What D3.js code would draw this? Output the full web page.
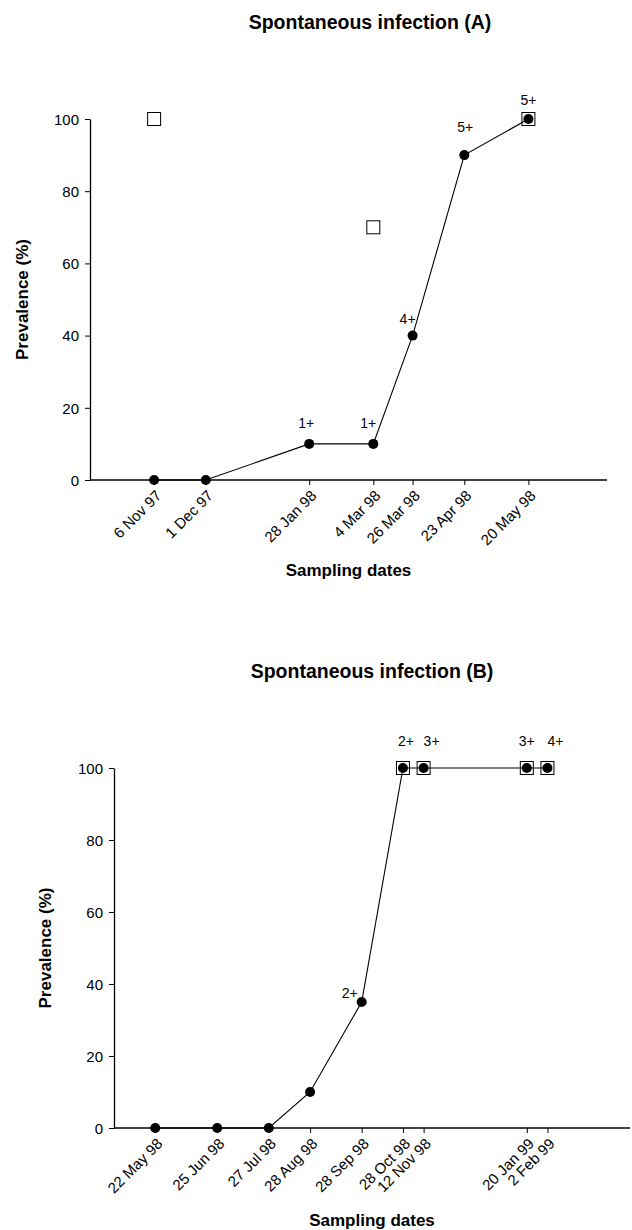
<!DOCTYPE html>
<html>
<head>
<meta charset="utf-8">
<script src="https://cdn.jsdelivr.net/npm/d3@7"></script>
<style>
  body { margin: 0; background: #fff; }
  svg text { font-family: "Liberation Sans", Arial, sans-serif; fill: #000; }
</style>
</head>
<body>
<div class="chart"></div>
<script>
// Panel A
const datesA = ["6 Nov 97", "1 Dec 97", "28 Jan 98", "4 Mar 98", "26 Mar 98", "23 Apr 98", "20 May 98"];
const posA = [31, 56, 106, 137, 156, 181, 212];
const prevA = [0, 0, 10, 10, 40, 90, 100];
const squaresA = [100, null, null, 70, null, null, 100];
const gradesA = [null, null, "1+", "1+", "4+", "5+", "5+"];

// Panel B
const datesB = ["22 May 98", "25 Jun 98", "27 Jul 98", "28 Aug 98", "28 Sep 98", "28 Oct 98", "12 Nov 98", "20 Jan 99", "2 Feb 99"];
const posB = [20, 50, 75, 95, 120, 140, 150, 200, 210];
const prevB = [0, 0, 0, 10, 35, 100, 100, 100, 100];
const squaresB = [null, null, null, null, null, 100, 100, 100, 100];
const gradesB = [null, null, null, null, "2+", "2+", "3+", "3+", "4+"];

const yTicks = [0, 20, 40, 60, 80, 100];

const svg = d3.select(".chart").append("svg")
  .attr("width", 632)
  .attr("height", 1230);

// label nudges relative to the dot (layout only)
const nudgeA = [null, null, [-3, -21], [-5, -21], [-5, -17], [1, -28], [0, -19]];
const nudgeB = [null, null, null, null, [-12, -9], [3, -27], [8, -27], [0, -27], [8, -27]];

drawPanel({
  title: "Spontaneous infection (A)",
  titleX: 370, titleY: 22,
  left: 90, right: 607, top: 119, bottom: 480,
  dates: datesA, pos: posA, prev: prevA, squares: squaresA, grades: gradesA, nudge: nudgeA,
  yLabelX: 22, xLabelY: 570
});

drawPanel({
  title: "Spontaneous infection (B)",
  titleX: 372, titleY: 671,
  left: 114, right: 630, top: 768, bottom: 1128,
  dates: datesB, pos: posB, prev: prevB, squares: squaresB, grades: gradesB, nudge: nudgeB,
  yLabelX: 45, xLabelY: 1220
});

function drawPanel (p) {
  const x = d3.scaleLinear().domain([0, 250]).range([p.left, p.right]);
  const y = d3.scaleLinear().domain([0, 100]).range([p.bottom, p.top]);

  const g = svg.append("g");

  g.append("text")
    .attr("x", p.titleX)
    .attr("y", p.titleY)
    .attr("dy", "0.35em")
    .style("text-anchor", "middle")
    .style("font-weight", "bold")
    .style("font-size", "19.5px")
    .text(p.title);

  // y axis
  const yAxis = d3.axisLeft(y).tickValues(yTicks).tickSize(5).tickPadding(6).tickSizeOuter(0);
  const ya = g.append("g")
    .attr("transform", `translate(${p.left},0)`)
    .call(yAxis);
  ya.select(".domain").attr("stroke-width", 1.3);
  ya.selectAll("text").style("font-size", "15px").attr("dy", "0.35em");

  // x axis
  const xAxis = d3.axisBottom(x).tickValues(p.pos).tickSize(5).tickSizeOuter(0).tickFormat((d, i) => p.dates[i]);
  const xa = g.append("g")
    .attr("transform", `translate(0,${p.bottom})`)
    .call(xAxis);
  xa.select(".domain").attr("d", `M${p.left},0H${p.right}`).attr("stroke-width", 1.3);
  xa.selectAll("text")
    .style("font-size", "15px")
    .style("text-anchor", "end")
    .attr("x", 0)
    .attr("y", 0)
    .attr("dy", "0.35em")
    .attr("transform", "translate(4,13) rotate(-45)");

  g.append("text")
    .attr("transform", `translate(${p.yLabelX},${(p.top + p.bottom) / 2}) rotate(-90)`)
    .attr("dy", "0.35em")
    .style("text-anchor", "middle")
    .style("font-weight", "bold")
    .style("font-size", "17px")
    .text("Prevalence (%)");

  g.append("text")
    .attr("x", (p.left + p.right) / 2)
    .attr("y", p.xLabelY)
    .attr("dy", "0.35em")
    .style("text-anchor", "middle")
    .style("font-weight", "bold")
    .style("font-size", "17px")
    .text("Sampling dates");

  const pts = p.pos.map((d, i) => ({ x: d, v: p.prev[i], s: p.squares[i], g: p.grades[i], n: p.nudge[i] }));

  // open squares
  g.selectAll("rect.sq")
    .data(pts.filter(d => d.s != null))
    .join("rect")
    .attr("class", "sq")
    .attr("x", d => x(d.x) - 6.5)
    .attr("y", d => y(d.s) - 6.5)
    .attr("width", 13)
    .attr("height", 13)
    .attr("fill", "#fff")
    .attr("stroke", "#000")
    .attr("stroke-width", 1);

  const line = d3.line().x(d => x(d.x)).y(d => y(d.v));
  g.append("path")
    .datum(pts)
    .attr("d", line)
    .attr("fill", "none")
    .attr("stroke", "#000")
    .attr("stroke-width", 1.1);

  g.selectAll("circle.dot")
    .data(pts)
    .join("circle")
    .attr("class", "dot")
    .attr("cx", d => x(d.x))
    .attr("cy", d => y(d.v))
    .attr("r", 5)
    .attr("fill", "#000");

  g.selectAll("text.grade")
    .data(pts.filter(d => d.g))
    .join("text")
    .attr("class", "grade")
    .attr("x", d => x(d.x) + d.n[0])
    .attr("y", d => y(d.v) + d.n[1])
    .attr("dy", "0.35em")
    .style("text-anchor", "middle")
    .style("font-size", "14px")
    .text(d => d.g);
}
</script>
</body>
</html>
